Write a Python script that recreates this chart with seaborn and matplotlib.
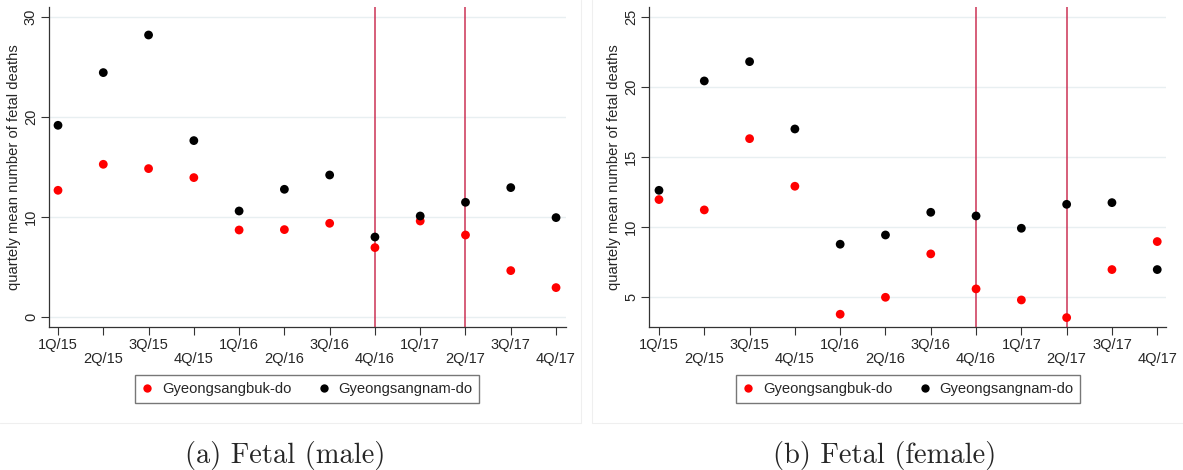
import matplotlib
matplotlib.use("Agg")
import matplotlib.pyplot as plt
import seaborn as sns
import pandas as pd
import numpy as np
from matplotlib.lines import Line2D

quarters = ["1Q/15", "2Q/15", "3Q/15", "4Q/15", "1Q/16", "2Q/16", "3Q/16",
            "4Q/16", "1Q/17", "2Q/17", "3Q/17", "4Q/17"]
regions = ["Gyeongsangbuk-do", "Gyeongsangnam-do"]

male_buk = [12.7, 15.3, 14.87, 13.97, 8.73, 8.77, 9.4, 6.97, 9.63, 8.23, 4.67, 2.97]
male_nam = [19.2, 24.47, 28.23, 17.67, 10.63, 12.8, 14.23, 8.03, 10.13, 11.5, 12.97, 9.97]
female_buk = [11.98, 11.24, 16.33, 12.93, 3.79, 5.0, 8.1, 5.6, 4.81, 3.55, 6.98, 8.98]
female_nam = [12.64, 20.45, 21.83, 17.02, 8.79, 9.45, 11.07, 10.81, 9.93, 11.64, 11.76, 6.98]

event_quarters = ["4Q/16", "2Q/17"]
captions = ["(a) Fetal (male)", "(b) Fetal (female)"]
ylabel = "quartely mean number of fetal deaths"

sns.set_theme(style="white")
plt.rcParams["font.family"] = ["Liberation Sans", "DejaVu Sans"]

def make_df(buk, nam):
    return pd.DataFrame({
        "idx": list(range(len(quarters))) * 2,
        "value": list(buk) + list(nam),
        "region": [regions[0]] * len(buk) + [regions[1]] * len(nam),
    })

palette = {regions[0]: "#ff0000", regions[1]: "#000000"}

W, H = 1183, 470
fig = plt.figure(figsize=(W / 100, H / 100), dpi=100)

def px_axes(x0, x1, ytop, ybot):
    return fig.add_axes([x0 / W, 1 - ybot / H, (x1 - x0) / W, (ybot - ytop) / H])

ax1 = px_axes(49.0, 566.0, 7.3, 326.7)
ax2 = px_axes(649.3, 1166.3, 7.3, 326.7)

panels = [
    (ax1, make_df(male_buk, male_nam), (-0.94, 31.0), [0, 10, 20, 30], (-0.199, 11.22)),
    (ax2, make_df(female_buk, female_nam), (2.9, 25.71), [5, 10, 15, 20, 25], (-0.214, 11.2)),
]

xlabels = [q if i % 2 == 0 else "\n" + q for i, q in enumerate(quarters)]

for ax, df, ylim, yticks, xlim in panels:
    for t in yticks:
        ax.axhline(t, color="#e8eff1", lw=1.0, zorder=0)
    for q in event_quarters:
        ax.axvline(quarters.index(q), color="#cc3355", lw=1.1, zorder=1)
    sns.scatterplot(data=df, x="idx", y="value", hue="region", palette=palette,
                    hue_order=regions, s=40, edgecolor="none", legend=False,
                    ax=ax, zorder=3)
    ax.set_xlim(*xlim)
    ax.set_ylim(*ylim)
    ax.set_yticks(yticks)
    ax.set_yticklabels([str(t) for t in yticks], rotation=90, va="center",
                       fontsize=10.5)
    ax.set_xticks(range(len(quarters)))
    ax.set_xticklabels(xlabels, fontsize=10.5, linespacing=1.0)
    ax.set_xlabel("")
    ax.set_ylabel(ylabel, fontsize=10.6, labelpad=2)
    ax.tick_params(axis="both", which="both", direction="out", length=6,
                   width=0.8, color="#333333", pad=2, bottom=True, left=True)
    for side in ["top", "right"]:
        ax.spines[side].set_visible(False)
    for side in ["left", "bottom"]:
        ax.spines[side].set_color("#333333")
        ax.spines[side].set_linewidth(0.9)

# faint graph-region borders
for xs, ys in [((580.7, 580.7), (0, 423.3)), ((591.7, 591.7), (0, 423.3)),
               ((0, 580.7), (423.3, 423.3)), ((591.7, W), (423.3, 423.3))]:
    fig.add_artist(Line2D([x / W for x in xs], [1 - y / H for y in ys],
                          color="#efefef", lw=0.8, transform=fig.transFigure))

handles = [Line2D([], [], marker="o", ls="none", color=palette[r],
                  markersize=6.0, markeredgewidth=0) for r in regions]

for lx, cx, cap in [(307, 285, captions[0]), (908, 885, captions[1])]:
    leg = fig.legend(handles, regions, loc="center", bbox_to_anchor=(lx / W, 1 - 389 / H),
                     ncol=2, fontsize=10.6, frameon=True, fancybox=False,
                     edgecolor="#555555", handlelength=0.8, handletextpad=0.6,
                     columnspacing=1.8, borderpad=0.45, borderaxespad=0)
    leg.get_frame().set_linewidth(1.0)
    fig.text(cx / W, 1 - 455 / H, cap, ha="center", va="center", fontsize=20.5,
             family="cmr10")

fig.savefig("out.png", dpi=100, facecolor="white")
